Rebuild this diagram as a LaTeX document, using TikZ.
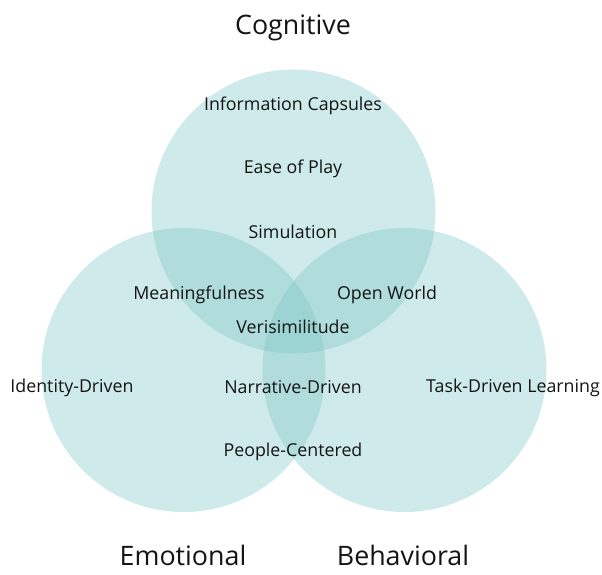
\documentclass[tikz,border=0pt]{standalone}
\usepackage{fontspec}
\setmainfont{Open Sans}
\definecolor{vteal}{RGB}{118,195,195}
\begin{document}
\begin{tikzpicture}[x=1pt,y=-1pt,
  venn/.style={fill=vteal,fill opacity=0.35,draw=none},
  lbl/.style={font=\fontsize{17.8}{20}\selectfont,text=black!92,inner sep=0pt},
  ttl/.style={font=\fontsize{26.8}{31}\selectfont,text=black!92,inner sep=0pt}]
\useasboundingbox (0,0) rectangle (602,574);
\fill[venn] (293.5,211.5) circle (142);
\fill[venn] (183.5,370) circle (142);
\fill[venn] (404.5,370) circle (142);
\node[ttl] (cog) at (293,28) {Cognitive};
\node[ttl,anchor=base,text depth=0pt] (emo) at (183,565) {Emotional};
\node[ttl,anchor=base,text depth=0pt] (beh) at (403,565) {Behavioral};
\node[lbl] (ic) at (293,105.5) {Information Capsules};
\node[lbl] (ep) at (293,168.5) {Ease of Play};
\node[lbl] (sim) at (293,231.5) {Simulation};
\node[lbl] (mf) at (199,294.5) {Meaningfulness};
\node[lbl] (ow) at (387,294.5) {Open World};
\node[lbl] (ver) at (293,326.5) {Verisimilitude};
\node[lbl] (id) at (72,387.5) {Identity-Driven};
\node[lbl] (nd) at (293,387.5) {Narrative-Driven};
\node[lbl] (td) at (513,387.5) {Task-Driven Learning};
\node[lbl] (pc) at (293,451.5) {People-Centered};
\end{tikzpicture}
\end{document}
